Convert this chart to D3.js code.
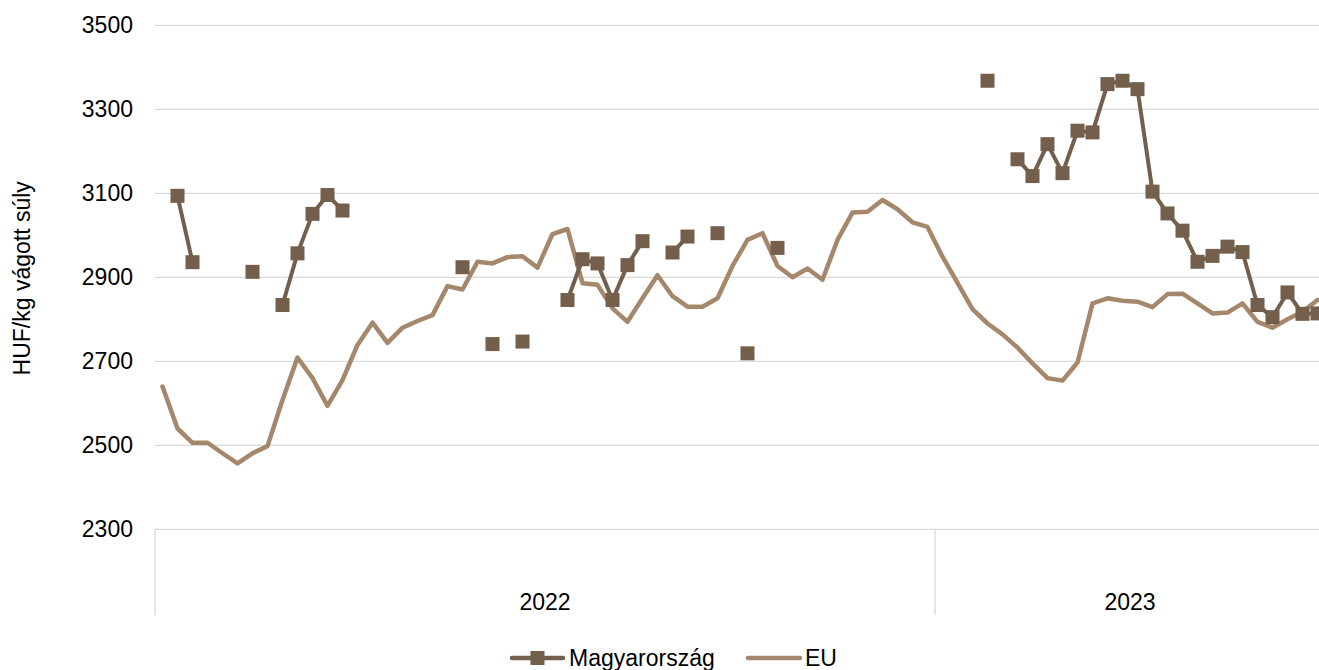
<!DOCTYPE html>
<html><head><meta charset="utf-8">
<script src="https://cdn.jsdelivr.net/npm/d3@7"></script>
<style>body{margin:0;background:#fff}text{font-family:"Liberation Sans",Arial,sans-serif}</style>
</head><body><svg id="c" width="1319" height="670"></svg>
<script>
const years = ["2022", "2023"];
const weeksPerYear = [52, 26];
const yTicks = [2300, 2500, 2700, 2900, 3100, 3300, 3500];
const seriesNames = ["Magyarország", "EU"];
const hu = [null,3094,2936,null,null,null,2913,null,2834,2957,3051,3096,3059,null,null,null,null,null,null,null,2924,null,2741,null,2747,null,null,2846,2943,2933,2846,2929,2986,null,2959,2997,null,3005,null,2719,null,2970,null,null,null,null,null,null,null,null,null,null,null,null,null,3368,null,3181,3141,3217,3148,3249,3245,3360,3368,3348,3104,3052,3011,2937,2951,2973,2960,2834,2805,2864,2813,2814];
const eu = [2640,2540,2506,2506,2481,2457,2481,2498,2608,2709,2660,2594,2655,2739,2792,2744,2780,2796,2810,2879,2871,2937,2933,2948,2950,2923,3003,3015,2886,2882,2826,2794,2850,2905,2855,2830,2830,2850,2927,2989,3005,2927,2900,2921,2894,2989,3054,3056,3084,3062,3031,3020,2949,2887,2824,2790,2764,2733,2695,2660,2654,2697,2838,2850,2844,2842,2829,2860,2861,2838,2814,2816,2838,2794,2780,2800,2818,2846];

const categories = [];
years.forEach((yr, k) => { for (let w = 1; w <= weeksPerYear[k]; w++) categories.push(yr + "-" + w); });

const svg = d3.select("#c");
const L = 155, R = 1325, T = 25.3, B = 529.3, AB = 615;
const FS = 23;
const x = d3.scaleBand().domain(categories).range([L, R]).paddingInner(0).paddingOuter(0);
const y = d3.scaleLinear().domain([2300, 3500]).range([B, T]);
const cx = c => x(c) + x.bandwidth() / 2;
const grid = "#d9d9d9";
const cHU = "#735f4c", cEU = "#a5876b";

svg.append("g").selectAll("line").data(yTicks).join("line")
  .attr("x1", L).attr("x2", R).attr("y1", d => y(d)).attr("y2", d => y(d))
  .attr("stroke", grid).attr("stroke-width", 1.3);
svg.append("g").selectAll("text").data(yTicks).join("text")
  .attr("x", 133).attr("y", d => y(d)).attr("dy", "0.35em").attr("text-anchor", "end")
  .attr("font-size", FS).attr("fill", "#000").text(d => d);
svg.append("text").attr("transform", `translate(30,${(T + B) / 2 + 1}) rotate(-90)`)
  .attr("text-anchor", "middle").attr("font-size", FS).attr("fill", "#000").text("HUF/kg vágott súly");

let idx = 0;
const bounds = [L];
years.forEach((yr, k) => { idx += weeksPerYear[k]; bounds.push(idx < categories.length ? x(categories[idx]) : R); });
svg.append("g").selectAll("line").data(bounds).join("line")
  .attr("x1", d => d).attr("x2", d => d).attr("y1", B).attr("y2", AB)
  .attr("stroke", grid).attr("stroke-width", 1.3);
svg.append("g").selectAll("text").data(years).join("text")
  .attr("x", (d, k) => (bounds[k] + bounds[k + 1]) / 2).attr("y", 602).attr("dy", "0.35em")
  .attr("text-anchor", "middle").attr("font-size", FS).attr("fill", "#000").text(d => d);

const euData = eu.map((v, i) => ({c: categories[i], v}));
svg.append("path").datum(euData)
  .attr("d", d3.line().x(d => cx(d.c)).y(d => y(d.v)))
  .attr("fill", "none").attr("stroke", cEU).attr("stroke-width", 4.5).attr("stroke-linejoin", "round").attr("stroke-linecap", "round");

const huData = hu.map((v, i) => ({c: categories[i], v}));
svg.append("path").datum(huData)
  .attr("d", d3.line().defined(d => d.v != null).x(d => cx(d.c)).y(d => y(d.v)))
  .attr("fill", "none").attr("stroke", cHU).attr("stroke-width", 4).attr("stroke-linejoin", "round");
const ms = 14;
svg.append("g").selectAll("rect").data(huData.filter(d => d.v != null)).join("rect")
  .attr("x", d => cx(d.c) - ms / 2).attr("y", d => y(d.v) - ms / 2).attr("width", ms).attr("height", ms)
  .attr("fill", cHU);

const lg = svg.append("g");
const ly = 658;
lg.append("line").attr("x1", 512).attr("x2", 563).attr("y1", ly).attr("y2", ly).attr("stroke", cHU).attr("stroke-width", 4.5).attr("stroke-linecap", "round");
lg.append("rect").attr("x", 537.5 - ms / 2).attr("y", ly - ms / 2).attr("width", ms).attr("height", ms).attr("fill", cHU);
lg.append("text").attr("x", 569).attr("y", ly).attr("dy", "0.35em").attr("font-size", FS).attr("fill", "#000").text(seriesNames[0]);
lg.append("line").attr("x1", 748).attr("x2", 800).attr("y1", ly).attr("y2", ly).attr("stroke", cEU).attr("stroke-width", 4.5).attr("stroke-linecap", "round");
lg.append("text").attr("x", 805).attr("y", ly).attr("dy", "0.35em").attr("font-size", FS).attr("fill", "#000").text(seriesNames[1]);
</script></body></html>
